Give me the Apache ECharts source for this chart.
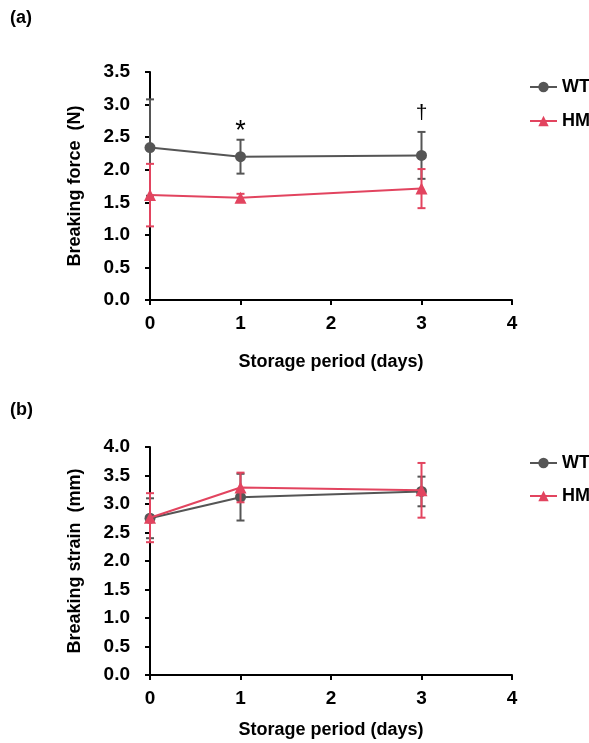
<!DOCTYPE html>
<html><head><meta charset="utf-8">
<script src="https://cdn.jsdelivr.net/npm/echarts@6/dist/echarts.min.js"></script>
<style>html,body{margin:0;padding:0;background:#fff}#c{width:589px;height:743px}</style>
</head><body><div id="c"></div>
<script>
const days = [0, 1, 3];
const forceWT = [2.34, 2.20, 2.22];
const forceWTerr = [0.74, 0.26, 0.36];
const forceHM = [1.61, 1.57, 1.71];
const forceHMerr = [0.48, 0.06, 0.30];
const strainWT = [2.75, 3.12, 3.22];
const strainWTerr = [0.35, 0.41, 0.26];
const strainHM = [2.76, 3.29, 3.24];
const strainHMerr = [0.43, 0.26, 0.48];
const forceMarks = [{x: 1, y: 2.46, text: '*'}, {x: 3, y: 2.58, text: '†'}];

const GREY = '#555555', RED = '#e2445f';
const FONT = 'Liberation Sans, Arial, sans-serif';

function pts(xs, ys) { return xs.map((x, i) => [x, ys[i]]); }
function errData(xs, ys, es) { return xs.map((x, i) => [x, ys[i] - es[i], ys[i] + es[i]]); }

function errSeries(idx, xs, ys, es, color, z) {
  return {
    type: 'custom', xAxisIndex: idx, yAxisIndex: idx, z: z, silent: true,
    data: errData(xs, ys, es),
    encode: {x: 0, y: [1, 2]},
    renderItem: function (params, api) {
      const lo = api.coord([api.value(0), api.value(1)]);
      const hi = api.coord([api.value(0), api.value(2)]);
      const w = 4;
      const st = {stroke: color, lineWidth: 2};
      return {type: 'group', children: [
        {type: 'line', shape: {x1: lo[0], y1: lo[1], x2: hi[0], y2: hi[1]}, style: st},
        {type: 'line', shape: {x1: lo[0] - w, y1: lo[1], x2: lo[0] + w, y2: lo[1]}, style: st},
        {type: 'line', shape: {x1: hi[0] - w, y1: hi[1], x2: hi[0] + w, y2: hi[1]}, style: st}
      ]};
    }
  };
}

function lineSeries(idx, name, xs, ys, color, symbol, size, z, extra) {
  return Object.assign({
    type: 'line', name: name, xAxisIndex: idx, yAxisIndex: idx, z: z,
    data: pts(xs, ys), symbol: symbol, symbolSize: size, showSymbol: true,
    lineStyle: {color: color, width: 2}, itemStyle: {color: color},
    emphasis: {disabled: true}
  }, extra || {});
}

const axisLabel = {color: '#000', fontFamily: FONT, fontWeight: 'bold', fontSize: 19};
const axisLineStyle = {show: true, lineStyle: {color: '#000', width: 2}};
const tickStyle = {show: true, inside: false, length: 5, lineStyle: {color: '#000', width: 2}};
const nameStyle = {color: '#000', fontFamily: FONT, fontWeight: 'bold', fontSize: 18};

function xAx(idx, gap) {
  return {type: 'value', gridIndex: idx, min: 0, max: 4, interval: 1,
    axisLine: Object.assign({onZero: false}, axisLineStyle), axisTick: tickStyle,
    axisLabel: Object.assign({margin: 14}, axisLabel), splitLine: {show: false},
    name: 'Storage period (days)', nameLocation: 'middle', nameGap: gap,
    nameTextStyle: nameStyle};
}
function yAx(idx, max, name) {
  return {type: 'value', gridIndex: idx, min: 0, max: max, interval: 0.5,
    axisLine: axisLineStyle, axisTick: tickStyle,
    axisLabel: Object.assign({margin: 20, formatter: v => v.toFixed(1)}, axisLabel), splitLine: {show: false},
    name: name, nameLocation: 'middle', nameGap: 66, nameRotate: 90,
    nameTextStyle: nameStyle};
}

const markFont = {'*': 27, '†': 21};
const markShift = {'*': -8, '†': -19};
const markData = forceMarks.map(m => ({coord: [m.x, m.y], value: m.text,
  label: {fontSize: markFont[m.text], offset: [0, markShift[m.text]]}}));

const legendText = {color: '#000', fontFamily: FONT, fontWeight: 'bold', fontSize: 18};

const option = {
  animation: false,
  backgroundColor: '#fff',
  grid: [
    {left: 150, top: 72, width: 362, height: 228, outerBoundsMode: 'none', containLabel: false},
    {left: 150, top: 447, width: 362, height: 228, outerBoundsMode: 'none', containLabel: false}
  ],
  xAxis: [xAx(0, 53), xAx(1, 46)],
  yAxis: [yAx(0, 3.5, 'Breaking force  (N)'), yAx(1, 4.0, 'Breaking strain  (mm)')],
  legend: [
    {data: ['WT', 'HM'], left: 529, top: 78, padding: 0, orient: 'vertical', itemGap: 16, itemWidth: 27, itemHeight: 13,
      textStyle: legendText},
    {data: ['WT ', 'HM '], left: 529, top: 454, padding: 0, orient: 'vertical', itemGap: 15, itemWidth: 27, itemHeight: 13,
      formatter: n => n.trim(), textStyle: legendText}
  ],
  graphic: [
    {type: 'text', left: 10, top: 9, style: {text: '(a)', font: 'bold 18px ' + FONT, fill: '#000'}},
    {type: 'text', left: 10, top: 401, style: {text: '(b)', font: 'bold 18px ' + FONT, fill: '#000'}}
  ],
  series: [
    errSeries(0, days, forceWT, forceWTerr, GREY, 2),
    lineSeries(0, 'WT', days, forceWT, GREY, 'circle', 11, 3, {
      markPoint: {symbol: 'circle', symbolSize: 0, silent: true, data: markData,
        label: {show: true, position: 'inside', formatter: p => p.value,
          color: '#000', fontFamily: FONT}}
    }),
    errSeries(0, days, forceHM, forceHMerr, RED, 4),
    lineSeries(0, 'HM', days, forceHM, RED, 'triangle', 12, 5),
    errSeries(1, days, strainWT, strainWTerr, GREY, 2),
    lineSeries(1, 'WT ', days, strainWT, GREY, 'circle', 11, 3),
    errSeries(1, days, strainHM, strainHMerr, RED, 4),
    lineSeries(1, 'HM ', days, strainHM, RED, 'triangle', 12, 5)
  ]
};
const chart = echarts.init(document.getElementById('c'), null, {renderer: 'canvas'});
chart.setOption(option);
</script></body></html>
